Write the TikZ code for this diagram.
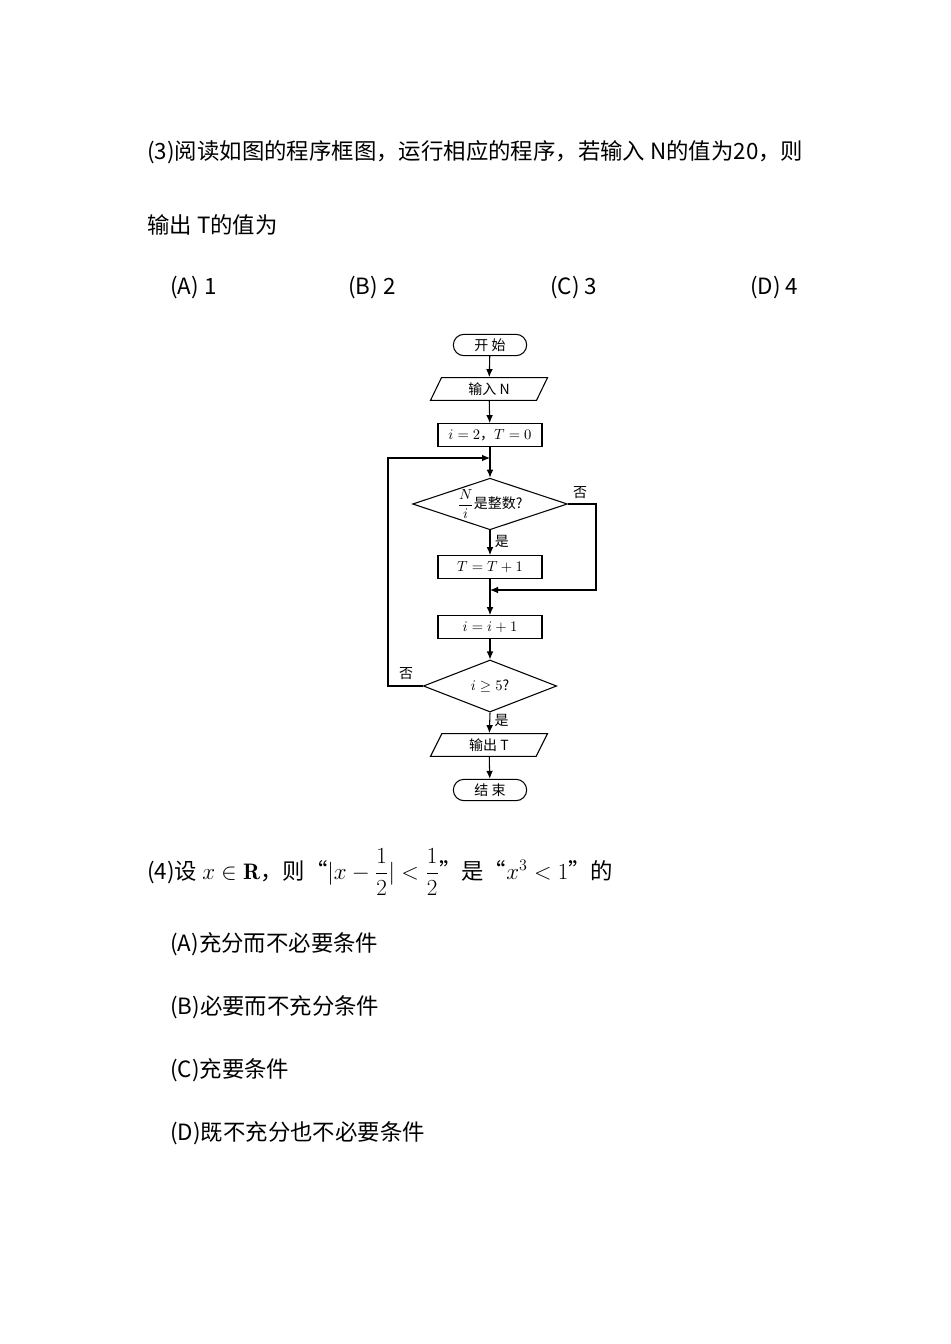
\documentclass[tikz,border=0pt]{standalone}
\usepackage{fontspec}
\newfontfamily\cjk{Noto Sans CJK SC}
\usetikzlibrary{shapes.geometric,arrows.meta}
\begin{document}
\begin{tikzpicture}[x=0.75pt,y=-0.75pt,
  txt/.style={anchor=west,inner sep=0pt,font=\cjk\fontsize{16.8}{20}\selectfont},
  ftxt/.style={font=\cjk\fontsize{10.5}{12}\selectfont},
  box/.style={draw,thick,minimum width=78pt,minimum height=17pt,inner sep=0pt,ftxt},
  term/.style={draw,thick,rounded corners=8pt,minimum width=55pt,minimum height=16pt,inner sep=0pt,ftxt},
  io/.style={draw,thick,trapezium,trapezium left angle=72,trapezium right angle=108,minimum width=70pt,minimum height=17pt,inner sep=1pt,trapezium stretches=true,ftxt},
  dec/.style={draw,thick,diamond,aspect=3,inner sep=0pt,ftxt},
  arr/.style={thick,-{Latex[length=6pt,width=5pt]}},
  ln/.style={thick}]
\useasboundingbox (0,0) rectangle (950,1344);
\node[txt] (l1) at (147,152) {(3)阅读如图的程序框图，运行相应的程序，若输入 \textit{N}的值为20，则};
\node[txt] (l2) at (147,225) {输出 \textit{T}的值为};
\node[txt] (oa) at (170,288) {(A) 1};
\node[txt] (ob) at (348,288) {(B) 2};
\node[txt] (oc) at (550,288) {(C) 3};
\node[txt] (od) at (750,288) {(D) 4};

\node[term] (s) at (490,345) {开\ 始};
\node[io,minimum width=88pt] (in) at (489,389) {输入 \textit{N}};
\node[box] (init) at (490,435) {$i=2$，$T=0$};
\node[dec,minimum width=113pt,minimum height=36pt] (d1) at (490,504) {$\displaystyle\frac{N}{i}$是整数?};
\node[box] (t) at (490,567) {$T=T+1$};
\node[box] (inc) at (490,627) {$i=i+1$};
\node[dec,minimum width=100pt,minimum height=39pt] (d2) at (490,686) {$i\geq5$?};
\node[io,minimum width=88pt] (out) at (489,745) {输出 \textit{T}};
\node[term] (e) at (490,790) {结\ 束};
\coordinate (j1) at (490,458);
\coordinate (j2) at (490,590);
\coordinate (c1) at (596,504);
\coordinate (c2) at (596,590);
\coordinate (c3) at (388,686);
\coordinate (c4) at (388,458);

\draw[arr] (s) -- (in);
\draw[arr] (in) -- (init);
\draw[arr] (init) -- (d1.north);
\draw[arr] (d1) -- (t) node[pos=0.45,right,ftxt]{是};
\draw[ln] (t) -- (j2);
\draw[arr] (j2) -- (inc);
\draw[arr] (d1.east) -- (c1) -- (c2) -- (j2);
\node[ftxt] (no1) at (580,493) {否};
\draw[arr] (inc) -- (d2.north);
\draw[arr] (d2.south) -- (out) node[pos=0.4,right,ftxt]{是};
\draw[arr] (out) -- (e);
\draw[arr] (d2.west) -- (c3) -- (c4) -- (j1);
\node[ftxt] (no2) at (406,674) {否};

\node[txt] (q4) at (147,872) {(4)设 $x\in\mathbf{R}$，则“$\displaystyle|x-\frac{1}{2}|<\frac{1}{2}$”是“$x^3<1$”的};
\node[txt] (qa) at (170,944) {(A)充分而不必要条件};
\node[txt] (qb) at (170,1007) {(B)必要而不充分条件};
\node[txt] (qc) at (170,1070) {(C)充要条件};
\node[txt] (qd) at (170,1133) {(D)既不充分也不必要条件};
\end{tikzpicture}
\end{document}
